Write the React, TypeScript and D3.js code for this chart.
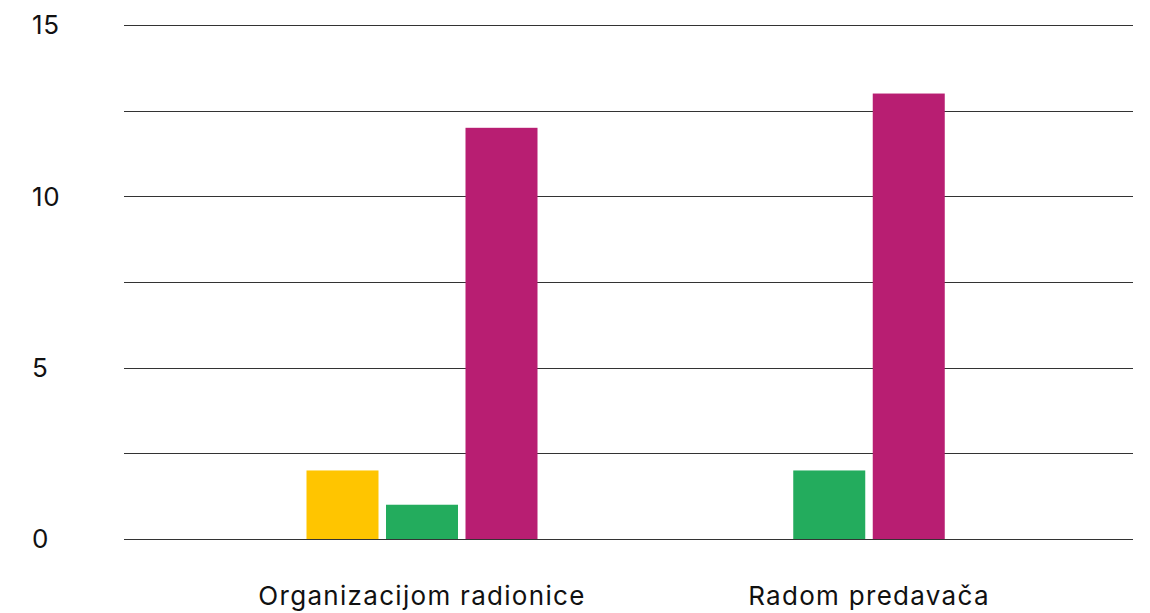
import { useEffect, useRef } from "react";
import * as d3 from "d3";

const categories = ["Organizacijom radionice", "Radom predavača"];
const seriesKeys = ["s1", "s2", "s3"];
const seriesColors = ["#FFC500", "#23AC5D", "#B81E72"];
// null = no bar for that category
const s1Values: (number | null)[] = [2, null];
const s2Values: (number | null)[] = [1, 2];
const s3Values: (number | null)[] = [12, 13];
const yTicks = [0, 5, 10, 15];
const yGrid = [0, 2.5, 5, 7.5, 10, 12.5, 15];

export default function App() {
  const svgRef = useRef<SVGSVGElement | null>(null);

  useEffect(() => {
    document.body.style.margin = "0";
    if (!svgRef.current) return;
    const svg = d3.select(svgRef.current);
    svg.selectAll("*").remove();

    const W = 1150;
    const H = 613;
    const gridLeft = 124;
    const gridRight = 1133;
    const font = "Inter, Roboto, sans-serif";

    const y = d3.scaleLinear().domain([0, 15]).range([539, 25]);
    const x = d3.scaleBand<string>().domain(categories).range([198.5, 1092.5]).padding(0);

    const barW = 72;
    const gap = 7.5;

    // grid
    svg
      .append("g")
      .selectAll("line")
      .data(yGrid)
      .join("line")
      .attr("x1", gridLeft)
      .attr("x2", gridRight)
      .attr("y1", (d) => Math.round(y(d)) + 0.5)
      .attr("y2", (d) => Math.round(y(d)) + 0.5)
      .attr("stroke", "#333")
      .attr("stroke-width", 1.2);

    // y tick labels
    svg
      .append("g")
      .selectAll("text")
      .data(yTicks)
      .join("text")
      .attr("x", 32)
      .attr("y", (d) => y(d))
      .attr("dy", "0.36em")
      .attr("font-family", font)
      .attr("font-size", 26)
      .attr("letter-spacing", 0.6)
      .attr("fill", "#111")
      .text((d) => d);

    // bars
    const allSeries = [s1Values, s2Values, s3Values];
    const bars = svg.append("g");
    categories.forEach((cat, ci) => {
      const present = seriesKeys.filter((_, si) => allSeries[si][ci] != null);
      const n = present.length;
      const width = n * barW + (n - 1) * gap;
      const cx = x(cat)! + x.bandwidth() / 2;
      const inner = d3
        .scaleBand<string>()
        .domain(present)
        .range([cx - width / 2, cx + width / 2])
        .paddingInner(gap / (barW + gap))
        .paddingOuter(0);
      bars
        .selectAll(null)
        .data(present)
        .enter()
        .append("rect")
        .attr("x", (k) => inner(k)!)
        .attr("width", inner.bandwidth())
        .attr("y", (k) => y(allSeries[seriesKeys.indexOf(k)][ci]!))
        .attr("height", (k) => y(0) - y(allSeries[seriesKeys.indexOf(k)][ci]!))
        .attr("fill", (k) => seriesColors[seriesKeys.indexOf(k)]);
    });

    // baseline on top
    svg
      .append("line")
      .attr("x1", gridLeft)
      .attr("x2", gridRight)
      .attr("y1", Math.round(y(0)) + 0.5)
      .attr("y2", Math.round(y(0)) + 0.5)
      .attr("stroke", "#333")
      .attr("stroke-width", 1.2);

    // x labels
    svg
      .append("g")
      .selectAll("text")
      .data(categories)
      .join("text")
      .attr("x", (d) => x(d)! + x.bandwidth() / 2)
      .attr("y", 596)
      .attr("dy", "0.36em")
      .attr("text-anchor", "middle")
      .attr("font-family", font)
      .attr("font-size", 26)
      .attr("letter-spacing", 1.3)
      .attr("fill", "#111")
      .text((d) => d);

    svg.attr("width", W).attr("height", H);
  }, []);

  return (
    <div style={{ width: 1150, height: 613, background: "#fff" }}>
      <svg ref={svgRef} width={1150} height={613} style={{ display: "block" }} />
    </div>
  );
}
